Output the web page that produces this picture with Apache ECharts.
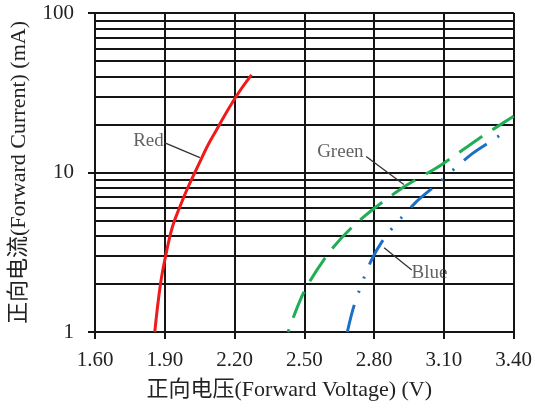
<!DOCTYPE html>
<html>
<head>
<meta charset="utf-8">
<script src="https://cdn.jsdelivr.net/npm/echarts@6/dist/echarts.min.js"></script>
<style>html,body{margin:0;padding:0;background:#fff;}#c{width:535px;height:412px;}</style>
</head>
<body>
<div id="c"></div>
<script>
const xTicks = [1.6, 1.9, 2.2, 2.5, 2.8, 3.1, 3.4];
const yMinorLines = [2, 3, 4, 5, 6, 7, 8, 9, 10, 20, 30, 40, 50, 60, 70, 80, 90, 100];

const redV = [1.857, 1.882, 1.906, 1.933, 1.965, 2.001, 2.048, 2.082, 2.118, 2.163, 2.216, 2.273];
const redI = [1.0, 2.02, 3.11, 4.57, 6.1, 8.15, 11.4, 14.5, 18.0, 23.5, 31.4, 40.9];

const greenV = [2.430, 2.500, 2.610, 2.730, 2.910, 3.090, 3.250, 3.400];
const greenI = [1.0, 1.8, 3.2, 4.9, 7.8, 11.2, 16.3, 22.5];

const blueV = [2.685, 2.715, 2.786, 2.850, 2.977, 3.069, 3.218, 3.325, 3.375];
const blueI = [1.0, 1.48, 2.77, 3.98, 6.45, 8.4, 13.0, 16.5, 18.6];

const labelNames = ['Red', 'Green', 'Blue'];
const labelV = [1.83, 2.655, 3.038];
const labelI = [15.8, 13.4, 2.36];
const leaderStartV = [1.898, 2.766, 2.843];
const leaderStartI = [15.4, 12.6, 3.38];
const leaderEndV = [2.051, 2.928, 2.962];
const leaderEndI = [12.4, 8.4, 2.45];

const FONT = "'Liberation Serif', 'Noto Sans CJK SC', serif";
const GREEN_DASH = [28, 12];
const zip = (a, b) => a.map((v, i) => [v, b[i]]);

const chart = echarts.init(document.getElementById('c'), null, {renderer: 'canvas'});

function buildSeries(greenOffset) {
  const series = [
    {
      type: 'line', name: 'grid', data: [], silent: true,
      markLine: {
        silent: true, symbol: 'none', animation: false,
        label: {show: false},
        lineStyle: {color: '#151515', width: 2, type: 'solid'},
        data: yMinorLines.map(v => ({yAxis: v}))
      }
    },
    {
      type: 'line', name: 'Red', data: zip(redV, redI), smooth: 0.4, showSymbol: false,
      lineStyle: {color: '#f01a1a', width: 3}, z: 5
    },
    {
      type: 'line', name: 'Green', data: zip(greenV, greenI), smooth: 0.3, showSymbol: false,
      lineStyle: {color: '#1fae55', width: 3, type: GREEN_DASH, dashOffset: greenOffset}, z: 5
    },
    {
      type: 'line', name: 'Blue', data: zip(blueV, blueI), smooth: 0.3, showSymbol: false,
      lineStyle: {color: '#1b6fc6', width: 3, type: [28, 13, 2, 13, 2, 13]}, z: 5
    }
  ];
  labelNames.forEach((n, i) => {
    series.push({
      type: 'line', name: n + '-leader', silent: true, showSymbol: false,
      data: [[leaderStartV[i], leaderStartI[i]], [leaderEndV[i], leaderEndI[i]]],
      lineStyle: {color: '#333', width: 1.3}, z: 6
    });
  });
  series.push({
    type: 'scatter', name: 'labels', silent: true, symbolSize: 0,
    data: labelNames.map((n, i) => ({name: n, value: [labelV[i], labelI[i]]})),
    label: {
      show: true, position: 'inside', formatter: p => p.name,
      color: '#3a3a3a', fontFamily: FONT, fontSize: 19
    },
    z: 7
  });
  return series;
}

chart.setOption({
  animation: false,
  backgroundColor: '#fff',
  grid: {left: 93, right: 17, top: 13, bottom: 80, containLabel: false},
  xAxis: {
    type: 'value', min: 1.6, max: 3.4, interval: 0.1,
    name: '正向电压(Forward Voltage) (V)', nameLocation: 'middle', nameGap: 47,
    nameTextStyle: {color: '#222', fontFamily: FONT, fontSize: 22, padding: [0, 30, 0, 0]},
    axisLine: {show: true, lineStyle: {color: '#151515', width: 2}},
    axisTick: {show: true, length: 7, customValues: xTicks, lineStyle: {color: '#151515', width: 2}},
    axisLabel: {
      customValues: xTicks, margin: 18, color: '#222', fontFamily: FONT, fontSize: 21,
      formatter: v => Number(v).toFixed(2)
    },
    splitLine: {show: true, lineStyle: {color: '#151515', width: 2}}
  },
  yAxis: {
    type: 'log', logBase: 10, min: 1, max: 100,
    name: '正向电流(Forward Current) (mA)', nameLocation: 'middle', nameGap: 65,
    nameTextStyle: {color: '#222', fontFamily: FONT, fontSize: 22},
    axisLine: {show: true, lineStyle: {color: '#151515', width: 2}},
    axisTick: {show: true, length: 7, lineStyle: {color: '#151515', width: 2}},
    axisLabel: {margin: 21, color: '#222', fontFamily: FONT, fontSize: 21},
    splitLine: {show: true, lineStyle: {color: '#151515', width: 2}},
    minorTick: {show: false},
    minorSplitLine: {show: false}
  },
  series: buildSeries(0)
});

// Align the green dash pattern so the line ends on a dash (as in the reference)
const pts = zip(greenV, greenI).map(p => chart.convertToPixel({gridIndex: 0}, p));
let len = 0;
for (let i = 1; i < pts.length; i++) {
  len += Math.hypot(pts[i][0] - pts[i - 1][0], pts[i][1] - pts[i - 1][1]);
}
const period = GREEN_DASH[0] + GREEN_DASH[1];
const target = GREEN_DASH[0] - 3;
const off = ((target - (len % period)) % period + period) % period;
chart.setOption({series: buildSeries(off)});
</script>
</body>
</html>
